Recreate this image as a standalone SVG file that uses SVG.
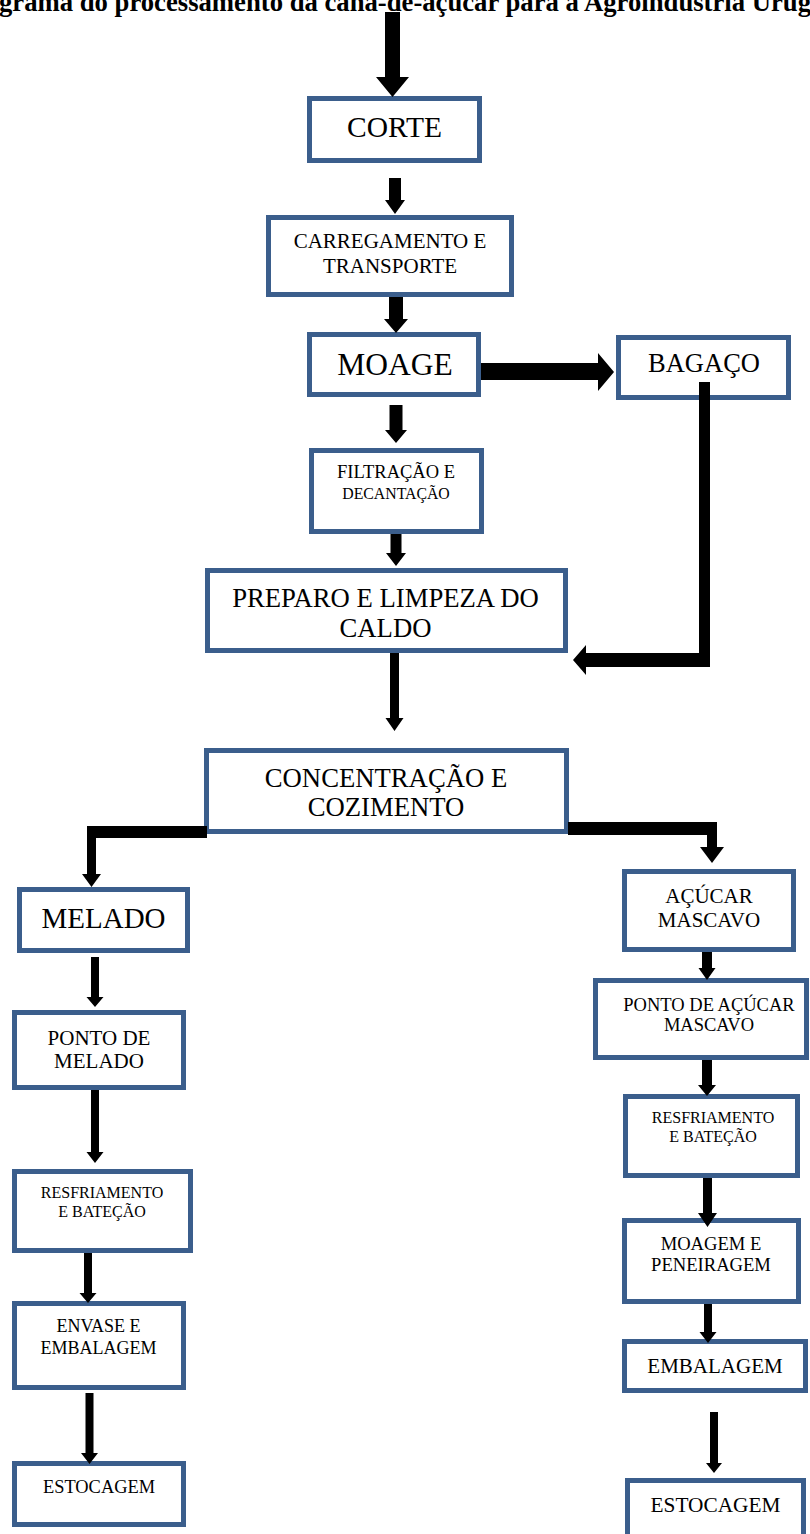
<svg xmlns="http://www.w3.org/2000/svg" width="810" height="1534" viewBox="0 0 810 1534">
<style>
.box{fill:#fff;stroke:#3B5E8C;stroke-width:5}
.t{font-family:"Liberation Serif","Times New Roman",serif;fill:#000;text-anchor:middle}
.title{font-family:"Liberation Serif","Times New Roman",serif;font-weight:bold;fill:#000}
.arr{fill:#000;stroke:none}
</style>
<rect width="810" height="1534" fill="#fff"/>
<text class="title" x="-1" y="11" font-size="27" textLength="812" lengthAdjust="spacingAndGlyphs">grama do processamento da cana-de-açúcar para a Agroindústria Urug</text>

<g id="n-corte"><rect class="box" x="309.5" y="98.5" width="170" height="62"/><text class="t" x="394.5" y="137" font-size="29.5">CORTE</text></g>
<g id="n-carregamento"><rect class="box" x="268.5" y="217.5" width="243" height="77"/><text class="t" x="390" y="248" font-size="21">CARREGAMENTO E</text><text class="t" x="390" y="273" font-size="21">TRANSPORTE</text></g>
<g id="n-moage"><rect class="box" x="309.5" y="334.5" width="169" height="60"/><text class="t" x="395" y="375" font-size="31.5">MOAGE</text></g>
<g id="n-bagaco"><rect class="box" x="618.5" y="337.5" width="170" height="60"/><text class="t" x="704" y="372" font-size="26.5">BAGAÇO</text></g>
<g id="n-filtracao"><rect class="box" x="311.5" y="450.5" width="170" height="81"/><text class="t" x="396" y="478" font-size="18.5">FILTRAÇÃO E</text><text class="t" x="396" y="499" font-size="15.8">DECANTAÇÃO</text></g>
<g id="n-preparo"><rect class="box" x="207.5" y="570.5" width="358" height="80"/><text class="t" x="385.5" y="607" font-size="26.7">PREPARO E LIMPEZA DO</text><text class="t" x="385.5" y="637" font-size="26.7">CALDO</text></g>
<g id="n-concentracao"><rect class="box" x="206.5" y="750.5" width="360" height="81"/><text class="t" x="386" y="787" font-size="26.7">CONCENTRAÇÃO E</text><text class="t" x="386" y="816" font-size="26.7">COZIMENTO</text></g>
<g id="n-melado"><rect class="box" x="19.5" y="889.5" width="168" height="61"/><text class="t" x="103.5" y="928" font-size="29">MELADO</text></g>
<g id="n-ponto-melado"><rect class="box" x="14.5" y="1012.5" width="169" height="75"/><text class="t" x="99" y="1045" font-size="21">PONTO DE</text><text class="t" x="99" y="1068" font-size="21">MELADO</text></g>
<g id="n-resfriamento-l"><rect class="box" x="14.5" y="1171.5" width="176" height="79"/><text class="t" x="102" y="1198" font-size="16">RESFRIAMENTO</text><text class="t" x="102" y="1217" font-size="16">E BATEÇÃO</text></g>
<g id="n-envase"><rect class="box" x="14.5" y="1303.5" width="169" height="84"/><text class="t" x="98.5" y="1332" font-size="18">ENVASE E</text><text class="t" x="98.5" y="1354" font-size="18">EMBALAGEM</text></g>
<g id="n-estocagem-l"><rect class="box" x="14.5" y="1463.5" width="169" height="61"/><text class="t" x="99" y="1493" font-size="18.4">ESTOCAGEM</text></g>
<g id="n-acucar"><rect class="box" x="624.5" y="871.5" width="169" height="78"/><text class="t" x="709" y="903" font-size="21">AÇÚCAR</text><text class="t" x="709" y="927" font-size="21">MASCAVO</text></g>
<g id="n-ponto-acucar"><rect class="box" x="595.5" y="980.5" width="211" height="77"/><text class="t" x="709" y="1011" font-size="18.5">PONTO DE AÇÚCAR</text><text class="t" x="709" y="1031" font-size="18.5">MASCAVO</text></g>
<g id="n-resfriamento-r"><rect class="box" x="625.5" y="1096.5" width="172" height="79"/><text class="t" x="713" y="1123" font-size="16">RESFRIAMENTO</text><text class="t" x="713" y="1142" font-size="16">E BATEÇÃO</text></g>
<g id="n-moagem"><rect class="box" x="624.5" y="1220.5" width="174" height="81"/><text class="t" x="711" y="1250" font-size="18.6">MOAGEM E</text><text class="t" x="711" y="1271" font-size="18.6">PENEIRAGEM</text></g>
<g id="n-embalagem-r"><rect class="box" x="624.5" y="1341.5" width="181" height="49"/><text class="t" x="715" y="1373" font-size="21">EMBALAGEM</text></g>
<g id="n-estocagem-r"><rect class="box" x="627.5" y="1480.5" width="176" height="60"/><text class="t" x="715.5" y="1512" font-size="21.3">ESTOCAGEM</text></g>

<g id="connectors">
<polygon class="arr" points="385,12 400,12 400,77 409,77 392.5,97 376,77 385,77"/>
<polygon class="arr" points="389,178 401,178 401,200 405,200 395,214 385,200 389,200"/>
<polygon class="arr" points="389,297 403,297 403,319 408,319 396,333 384,319 389,319"/>
<polygon class="arr" points="389.5,405 402.5,405 402.5,430 407,430 396,443 385,430 389.5,430"/>
<polygon class="arr" points="390.5,534 401.5,534 401.5,553 406,553 396,566 386,553 390.5,553"/>
<polygon class="arr" points="390,653 399,653 399,718 403.5,718 394.5,731 385.5,718 390,718"/>
<polygon class="arr" points="481,363 598,363 598,353 614,372 598,391 598,380 481,380"/>
<polygon class="arr" points="699,382 710,382 710,667 586,667 586,675 573,660 586,645 586,653 699,653"/>
<polygon class="arr" points="207,826 207,838 96,838 96,874 101,874 91.5,887 82,874 87,874 87,826"/>
<polygon class="arr" points="568,822 717,822 717,847 724,847 712,863 700,847 707,847 707,835 568,835"/>
<polygon class="arr" points="91,957 99,957 99,997 103.5,997 95,1007 86.5,997 91,997"/>
<polygon class="arr" points="91,1090 99,1090 99,1152 103.5,1152 95,1163 86.5,1152 91,1152"/>
<polygon class="arr" points="84,1253 92,1253 92,1293 96.5,1293 88,1303 79.5,1293 84,1293"/>
<polygon class="arr" points="85.5,1393 93.5,1393 93.5,1453 98,1453 89.5,1464 81,1453 85.5,1453"/>
<polygon class="arr" points="702,952 712,952 712,968 715.5,968 707,980 698.5,968 702,968"/>
<polygon class="arr" points="702,1060 712,1060 712,1085 716,1085 707,1096 698,1085 702,1085"/>
<polygon class="arr" points="703,1178 712,1178 712,1213 717,1213 707.5,1227 698,1213 703,1213"/>
<polygon class="arr" points="704,1304 712,1304 712,1332 716.5,1332 708,1343 699.5,1332 704,1332"/>
<polygon class="arr" points="710,1412 718,1412 718,1463 722,1463 714,1473 706,1463 710,1463"/>
</g>
</svg>
